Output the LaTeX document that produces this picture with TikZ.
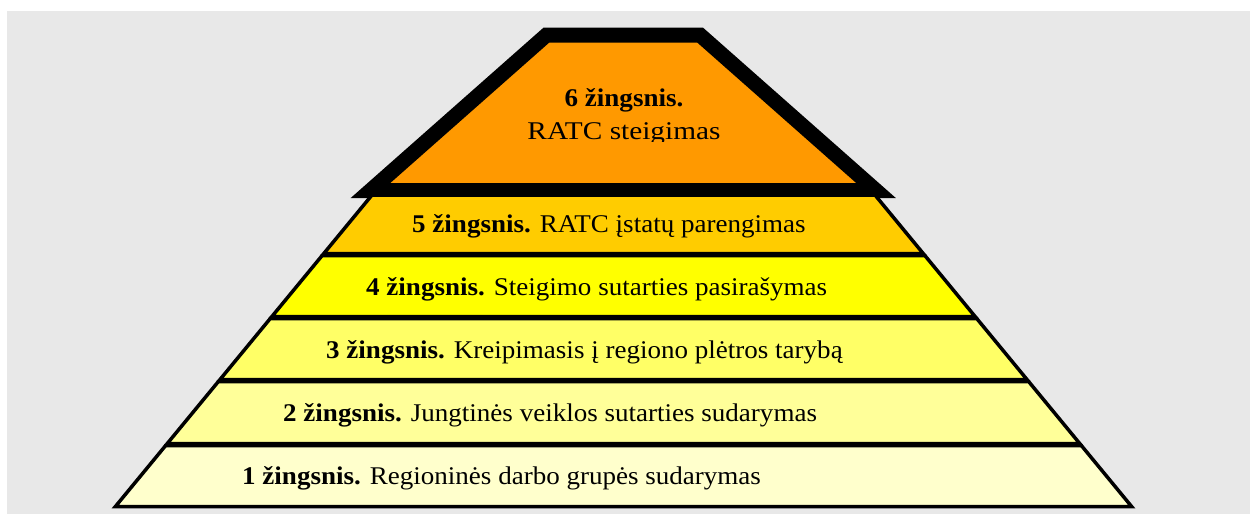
\documentclass[tikz,border=0pt]{standalone}
\usepackage{fontspec}
\setmainfont[FakeStretch=1.06]{Liberation Serif}
\newfontfamily\widefont[FakeStretch=1.15]{Liberation Serif}
\definecolor{bgc}{HTML}{E8E8E8}
\definecolor{c6}{HTML}{FF9900}
\definecolor{c5}{HTML}{FFCC00}
\definecolor{c4}{HTML}{FFFF00}
\definecolor{c3}{HTML}{FFFF66}
\definecolor{c2}{HTML}{FFFF99}
\definecolor{c1}{HTML}{FFFFCC}
\newcommand{\lyr}[3]{%
  \draw[layerline, fill=#3]
    ({372-0.8237*(#1-195)},#1) -- ({875+0.8237*(#1-195)},#1) --
    ({875+0.8237*(#2-195)},#2) -- ({372-0.8237*(#2-195)},#2) -- cycle;}
\tikzset{
  layerline/.style={line width=3.5pt, line join=miter},
  steptext/.style={font=\fontsize{25.5}{30}\selectfont, inner sep=0pt, anchor=base west},
}
\begin{document}
\begin{tikzpicture}[x=1pt,y=-1pt]
\useasboundingbox (0,0) rectangle (1250,514);
\fill[white] (0,0) rectangle (1250,514);
\fill[bgc] (7,11) rectangle (1250,514);
% top step
\draw[line width=15pt, line join=miter, fill=c6]
  (546.5,35) -- (700,35) -- (876,190.5) -- (370.5,190.5) -- cycle;
\node[steptext, anchor=base] (t6a) at (624,106.7) {\textbf{6 žingsnis.}};
\begin{scope}
\clip (400,50) rectangle (850,141);
\node[steptext, anchor=base] (t6b) at (624,139) {\widefont RATC steigimas};
\end{scope}
% layers
\lyr{195}{253.5}{c5}
\lyr{255.5}{316.5}{c4}
\lyr{318.5}{379.5}{c3}
\lyr{381.5}{443.5}{c2}
\lyr{445.5}{506.5}{c1}
\node[steptext] (t5) at (412,232.3) {\textbf{5 žingsnis.} RATC įstatų parengimas};
\node[steptext] (t4) at (366,295.3) {\textbf{4 žingsnis.} Steigimo sutarties pasirašymas};
\node[steptext] (t3) at (326,358.3) {\textbf{3 žingsnis.} Kreipimasis į regiono plėtros tarybą};
\node[steptext] (t2) at (283,421.3) {\textbf{2 žingsnis.} Jungtinės veiklos sutarties sudarymas};
\node[steptext] (t1) at (242,484.3) {\textbf{1 žingsnis.} Regioninės darbo grupės sudarymas};
\end{tikzpicture}
\end{document}
